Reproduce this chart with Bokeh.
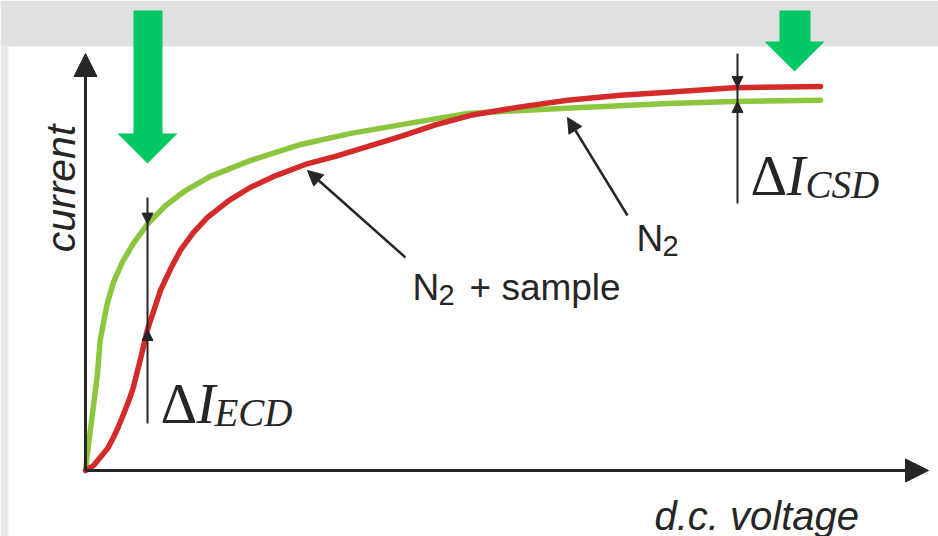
import math
import numpy as np
from bokeh.plotting import figure
from bokeh.models import Range1d, Arrow, NormalHead, Label
from bokeh.embed import file_html
from bokeh.resources import INLINE

# ---- data (arbitrary units 0..1) ----
voltage_n2 = [0, 0.004, 0.010, 0.016, 0.020, 0.029, 0.038, 0.050, 0.065, 0.084, 0.109,
              0.136, 0.170, 0.224, 0.293, 0.361, 0.446, 0.520, 0.646, 0.792, 0.882, 1.0]
current_n2 = [0, 0.065, 0.156, 0.247, 0.339, 0.430, 0.490, 0.542, 0.591, 0.641, 0.690,
              0.729, 0.766, 0.807, 0.849, 0.878, 0.906, 0.930, 0.943, 0.956, 0.961, 0.964]

voltage_sample = [0, 0.011, 0.020, 0.030, 0.038, 0.045, 0.052, 0.059, 0.065, 0.075, 0.084,
                  0.093, 0.102, 0.116, 0.129, 0.147, 0.166, 0.195, 0.224, 0.259, 0.299,
                  0.340, 0.378, 0.429, 0.476, 0.524, 0.592, 0.656, 0.728, 0.792, 0.882, 1.0]
current_sample = [0, 0.013, 0.034, 0.057, 0.086, 0.115, 0.148, 0.182, 0.216, 0.292, 0.365,
                  0.417, 0.469, 0.526, 0.573, 0.620, 0.659, 0.703, 0.737, 0.768, 0.797,
                  0.818, 0.840, 0.870, 0.900, 0.925, 0.947, 0.964, 0.977, 0.985, 0.997, 1.0]

label_n2 = "N"
label_sample = "+ sample"
label_x = "d.c. voltage"
label_y = "current"

# ---- layout helpers (page pixel -> data) ----
W, H = 938, 536
OX, OY = 85, 470
SX, SY = 735, 384


def dx(X):
    return (X - OX) / SX


def dy(Y):
    return (OY - Y) / SY


INK = "#262626"
GREEN_LINE = "#8cc63f"
RED_LINE = "#d42a2a"
GREEN_ARROW = "#00c864"

p = figure(width=W, height=H,
           x_range=Range1d(dx(0), dx(W)), y_range=Range1d(dy(H), dy(0)),
           output_backend="svg", toolbar_location=None,
           x_axis_location=None, y_axis_location=None,
           min_border=0, outline_line_color=None,
           background_fill_color="white", border_fill_color="white")
p.xgrid.visible = False
p.ygrid.visible = False

# grey surround (top band and thin left strip)
p.quad(left=dx(0), right=dx(W), bottom=dy(46), top=dy(0),
       fill_color="#e0e0e0", line_color=None)
p.quad(left=dx(0), right=dx(8), bottom=dy(H), top=dy(46),
       fill_color="#e6e8ea", line_color=None)

# big green arrows
for pts in ([(133, 10), (162, 10), (162, 133), (177, 133), (147, 163), (117, 133), (133, 133)],
            [(779, 10), (810, 10), (810, 41), (824, 41), (794, 71), (764, 41), (779, 41)]):
    p.patch([dx(a) for a, b in pts], [dy(b) for a, b in pts],
            fill_color=GREEN_ARROW, line_color=None)

# curves
p.line(voltage_n2, current_n2, line_color=GREEN_LINE, line_width=5.5,
       line_join="round", line_cap="round")
p.line(voltage_sample, current_sample, line_color=RED_LINE, line_width=5.5,
       line_join="round", line_cap="round")

# axes with arrow heads
p.add_layout(Arrow(end=NormalHead(size=23, fill_color=INK, line_color=INK),
                   x_start=0, y_start=0, x_end=dx(928), y_end=0,
                   line_width=3, line_color=INK))
p.add_layout(Arrow(end=NormalHead(size=23, fill_color=INK, line_color=INK),
                   x_start=0, y_start=0, x_end=0, y_end=dy(53),
                   line_width=3, line_color=INK))


def delta_marker(v, top, bottom):
    g = float(np.interp(v, voltage_n2, current_n2))
    r = float(np.interp(v, voltage_sample, current_sample))
    hi, lo = max(g, r), min(g, r)
    p.line([v, v], [top, bottom], line_color=INK, line_width=2)
    p.add_layout(Arrow(end=NormalHead(size=11, fill_color=INK, line_color=INK),
                       x_start=v, y_start=top, x_end=v, y_end=hi, line_alpha=0))
    p.add_layout(Arrow(end=NormalHead(size=11, fill_color=INK, line_color=INK),
                       x_start=v, y_start=bottom, x_end=v, y_end=lo, line_alpha=0))


delta_marker(dx(147), dy(197), dy(423))
delta_marker(dx(737), dy(53), dy(203))

# pointer arrows
p.add_layout(Arrow(end=NormalHead(size=15, fill_color=INK, line_color=INK),
                   x_start=dx(405), y_start=dy(257), x_end=dx(307), y_end=dy(170),
                   line_width=2.5, line_color=INK))
p.add_layout(Arrow(end=NormalHead(size=15, fill_color=INK, line_color=INK),
                   x_start=dx(627), y_start=dy(215), x_end=dx(567), y_end=dy(117),
                   line_width=2.5, line_color=INK))

SANS = "Liberation Sans"
SERIF = "Liberation Serif"


def lab(X, Y, text, size, font=SANS, style="normal", angle=0, align="left"):
    p.add_layout(Label(x=dx(X), y=dy(Y), text=text, text_font=font,
                       text_font_size=f"{size}px", text_font_style=style,
                       text_color=INK, angle=angle, text_align=align,
                       text_baseline="alphabetic"))


lab(60, 188, label_y, 41, style="italic", angle=math.pi / 2, align="center")
lab(654, 515, label_x, 40, style="italic")

lab(412, 287, label_n2, 37)
lab(438, 294, "2", 29)
lab(469, 287, label_sample, 37)

lab(636, 238, label_n2, 37)
lab(662, 245, "2", 29)

lab(160, 403, "Δ", 57, font=SERIF)
lab(196, 403, "I", 57, font=SERIF, style="italic")
lab(214, 412, "ECD", 39, font=SERIF, style="italic")

lab(750, 175, "Δ", 57, font=SERIF)
lab(786, 175, "I", 57, font=SERIF, style="italic")
lab(805, 184, "CSD", 39, font=SERIF, style="italic")

open("out.html", "w").write(file_html(p, INLINE))
